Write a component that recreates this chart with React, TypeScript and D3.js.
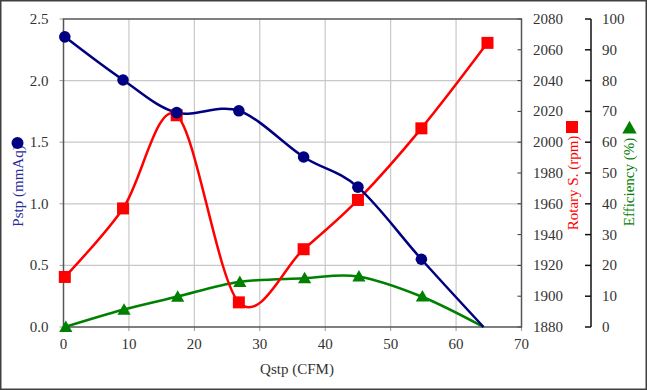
import React from "react";
import * as d3 from "d3";

const qstp = [0.2, 9.1, 17.3, 26.8, 36.7, 45.0, 54.7, 64.2];
const pstp = [2.355, 2.005, 1.74, 1.755, 1.38, 1.135, 0.55, 0.0];
const qstpRpm = [0.2, 9.1, 17.3, 26.8, 36.7, 45.0, 54.7, 64.8];
const rpm = [1912.5, 1957, 2017.5, 1896, 1930.5, 1962.5, 2009, 2064.5];
const efficiency = [0, 5.6, 9.8, 14.6, 15.8, 16.4, 9.9, 0];

const xTicks = [0, 10, 20, 30, 40, 50, 60, 70];
const pTicks = [0, 0.5, 1.0, 1.5, 2.0, 2.5];
const rpmTicks = [1880, 1900, 1920, 1940, 1960, 1980, 2000, 2020, 2040, 2060, 2080];
const effTicks = [0, 10, 20, 30, 40, 50, 60, 70, 80, 90, 100];

const W = 647;
const H = 390;
const L = 63.5, R = 521.5, T = 19, B = 327;
const FONT = "Liberation Serif";
const NAVY = "#000080";
const RED = "#ff0000";
const GREEN = "#008000";
const TXT = "#333333";
const FS = 15;

export default function App() {
  const x = d3.scaleLinear().domain([0, 70]).range([L, R]);
  const yP = d3.scaleLinear().domain([0, 2.5]).range([B, T]);
  const yR = d3.scaleLinear().domain([1880, 2080]).range([B, T]);
  const yE = d3.scaleLinear().domain([0, 100]).range([B, T]);
  const curve = d3.curveCardinal.tension(0);

  const pLine = d3.line<number>().x((_, i) => x(qstp[i])).y((d) => yP(d)).curve(curve);
  const rLine = d3.line<number>().x((_, i) => x(qstpRpm[i])).y((d) => yR(d)).curve(curve);
  const eLine = d3.line<number>().x((_, i) => x(qstp[i])).y((d) => yE(d)).curve(curve);

  const tri = (cx: number, cy: number, s: number) =>
    `M${cx},${cy - s * 0.6}L${cx + s * 0.6},${cy + s * 0.45}L${cx - s * 0.6},${cy + s * 0.45}Z`;

  const ts = { fontFamily: FONT, fontSize: FS } as React.CSSProperties;

  return (
    <svg width={W} height={H} style={{ position: "absolute", left: 0, top: 0, background: "#fff" }}>
      <rect x={0.75} y={0.75} width={W - 1.5} height={H - 1.5} fill="#fff" stroke="#404040" strokeWidth={1.5} />
      {xTicks.slice(1, -1).map((t) => (
        <line key={"gx" + t} x1={x(t)} x2={x(t)} y1={T} y2={B} stroke="#c8c8c8" strokeWidth={1.2} />
      ))}
      {pTicks.slice(1, -1).map((t) => (
        <line key={"gy" + t} x1={L} x2={R} y1={yP(t)} y2={yP(t)} stroke="#c8c8c8" strokeWidth={1.2} />
      ))}
      {pTicks.map((t) => (
        <line key={"lt" + t} x1={L - 4} x2={L} y1={yP(t)} y2={yP(t)} stroke="#999" strokeWidth={1} />
      ))}
      {xTicks.map((t) => (
        <line key={"bt" + t} x1={x(t)} x2={x(t)} y1={B} y2={B + 4} stroke="#999" strokeWidth={1} />
      ))}
      {rpmTicks.map((t) => (
        <line key={"rt" + t} x1={R - 4} x2={R} y1={yR(t)} y2={yR(t)} stroke="#333" strokeWidth={1} />
      ))}
      <rect x={L} y={T} width={R - L} height={B - T} fill="none" stroke="#555" strokeWidth={1.5} />
      <line x1={591} x2={591} y1={T} y2={B} stroke="#111" strokeWidth={1.5} />
      {effTicks.map((t) => (
        <line key={"et" + t} x1={585} x2={591} y1={yE(t)} y2={yE(t)} stroke="#111" strokeWidth={1.5} />
      ))}
      {pTicks.map((t) => (
        <text key={"pl" + t} x={48.5} y={yP(t) + 5} style={ts} textAnchor="end" fill={TXT}>
          {t.toFixed(1)}
        </text>
      ))}
      {xTicks.map((t) => (
        <text key={"xl" + t} x={x(t)} y={349} style={ts} textAnchor="middle" fill={TXT}>
          {t}
        </text>
      ))}
      {rpmTicks.map((t) => (
        <text key={"rl" + t} x={533} y={yR(t) + 5} style={ts} textAnchor="start" fill={TXT}>
          {t}
        </text>
      ))}
      {effTicks.map((t) => (
        <text key={"el" + t} x={602} y={yE(t) + 5} style={ts} textAnchor="start" fill={TXT}>
          {t}
        </text>
      ))}
      <text x={297} y={374} style={ts} textAnchor="middle" fill={TXT}>Qstp (CFM)</text>
      <text transform="translate(23,186) rotate(-90)" style={ts} textAnchor="middle" fill="#2a2a9a">Pstp (mmAq)</text>
      <circle cx={17.5} cy={143} r={6} fill={NAVY} />
      <text transform="translate(578,183) rotate(-90)" style={ts} textAnchor="middle" fill={RED}>Rotary S. (rpm)</text>
      <rect x={566} y={121} width={12} height={12} fill={RED} />
      <text transform="translate(634,182) rotate(-90)" style={ts} textAnchor="middle" fill={GREEN}>Efficiency (%)</text>
      <path d={tri(629.5, 128, 12)} fill={GREEN} />
      <path d={eLine(efficiency) ?? ""} fill="none" stroke={GREEN} strokeWidth={2.5} />
      <path d={rLine(rpm) ?? ""} fill="none" stroke={RED} strokeWidth={2.5} />
      <path d={pLine(pstp) ?? ""} fill="none" stroke={NAVY} strokeWidth={2.5} />
      {efficiency.slice(0, -1).map((v, i) => (
        <path key={"em" + i} d={tri(x(qstp[i]) + 1, yE(v), 11)} fill={GREEN} />
      ))}
      {rpm.map((v, i) => (
        <rect key={"rm" + i} x={x(qstpRpm[i]) - 6} y={yR(v) - 6} width={12} height={12} fill={RED} />
      ))}
      {pstp.slice(0, -1).map((v, i) => (
        <circle key={"pm" + i} cx={x(qstp[i])} cy={yP(v)} r={5.8} fill={NAVY} />
      ))}
    </svg>
  );
}
